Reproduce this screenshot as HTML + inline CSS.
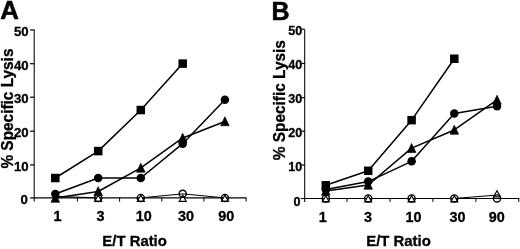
<!DOCTYPE html>
<html><head><meta charset="utf-8"><title>Figure</title>
<style>
html,body{margin:0;padding:0;background:#fff;}
body{width:520px;height:249px;overflow:hidden;}
svg{display:block;filter:blur(0.35px);}
svg text{font-family:"Liberation Sans",sans-serif;font-weight:bold;fill:#000;stroke:#000;stroke-width:0.3px;}
</style></head><body>
<svg width="520" height="249" viewBox="0 0 520 249">
<rect width="520" height="249" fill="#fff"/>
<line x1="34.2" y1="29.5" x2="34.2" y2="201.4" stroke="#000" stroke-width="1.05"/>
<line x1="30.200000000000003" y1="197.9" x2="246.5" y2="197.9" stroke="#000" stroke-width="1.15"/>
<line x1="30.000000000000004" y1="164.9" x2="34.2" y2="164.9" stroke="#000" stroke-width="1.2"/>
<line x1="30.000000000000004" y1="131.2" x2="34.2" y2="131.2" stroke="#000" stroke-width="1.2"/>
<line x1="30.000000000000004" y1="97.2" x2="34.2" y2="97.2" stroke="#000" stroke-width="1.2"/>
<line x1="30.000000000000004" y1="63.7" x2="34.2" y2="63.7" stroke="#000" stroke-width="1.2"/>
<line x1="30.000000000000004" y1="30.0" x2="34.2" y2="30.0" stroke="#000" stroke-width="1.2"/>
<line x1="77.4" y1="197.9" x2="77.4" y2="201.6" stroke="#000" stroke-width="1"/>
<line x1="119.6" y1="197.9" x2="119.6" y2="201.6" stroke="#000" stroke-width="1"/>
<line x1="161.8" y1="197.9" x2="161.8" y2="201.6" stroke="#000" stroke-width="1"/>
<line x1="203.9" y1="197.9" x2="203.9" y2="201.6" stroke="#000" stroke-width="1"/>
<line x1="246.1" y1="197.9" x2="246.1" y2="201.6" stroke="#000" stroke-width="1"/>
<polyline points="140.8,197.9 182.7,193.83 224.9,197.9" fill="none" stroke="#000" stroke-width="1.0" stroke-linejoin="round"/>
<polyline points="55.3,196.4 98.2,197.9" fill="none" stroke="#000" stroke-width="1.0" stroke-linejoin="round"/>
<polyline points="55.3,178.01 98.2,151.09 140.8,110.04 182.7,63.6" fill="none" stroke="#000" stroke-width="1.5" stroke-linejoin="round"/>
<polyline points="55.3,193.99 98.2,178.01 140.8,178.01 182.7,143.69 224.9,99.77" fill="none" stroke="#000" stroke-width="1.5" stroke-linejoin="round"/>
<polyline points="55.3,198.03 98.2,191.47 140.8,167.91 182.7,137.97 224.9,121.48" fill="none" stroke="#000" stroke-width="1.5" stroke-linejoin="round"/>
<polygon points="98.2,195.10000000000002 101.7,201.3 94.7,201.3" fill="#fff" stroke="#000" stroke-width="1.15"/>
<polygon points="140.8,195.10000000000002 144.3,201.3 137.3,201.3" fill="#fff" stroke="#000" stroke-width="1.15"/>
<polygon points="182.7,195.10000000000002 186.2,201.3 179.2,201.3" fill="#fff" stroke="#000" stroke-width="1.15"/>
<polygon points="224.9,195.10000000000002 228.4,201.3 221.4,201.3" fill="#fff" stroke="#000" stroke-width="1.15"/>
<circle cx="98.2" cy="197.9" r="3.55" fill="none" stroke="#000" stroke-width="1.4"/>
<circle cx="140.8" cy="197.9" r="3.55" fill="none" stroke="#000" stroke-width="1.4"/>
<circle cx="182.7" cy="193.83" r="3.55" fill="none" stroke="#000" stroke-width="1.4"/>
<circle cx="224.9" cy="197.9" r="3.55" fill="none" stroke="#000" stroke-width="1.4"/>
<rect x="51.05" y="173.76" width="8.5" height="8.5" fill="#000"/>
<rect x="93.95" y="146.84" width="8.5" height="8.5" fill="#000"/>
<rect x="136.55" y="105.79" width="8.5" height="8.5" fill="#000"/>
<rect x="178.45" y="59.35" width="8.5" height="8.5" fill="#000"/>
<polygon points="55.3,193.33 59.55,202.28 51.05,202.28" fill="#000" stroke="#000" stroke-width="0.7" stroke-linejoin="round"/>
<polygon points="98.2,186.77 102.45,195.72 93.95,195.72" fill="#000" stroke="#000" stroke-width="0.7" stroke-linejoin="round"/>
<polygon points="140.8,163.21 145.05,172.16 136.55,172.16" fill="#000" stroke="#000" stroke-width="0.7" stroke-linejoin="round"/>
<polygon points="182.7,133.27 186.95,142.22 178.45,142.22" fill="#000" stroke="#000" stroke-width="0.7" stroke-linejoin="round"/>
<polygon points="224.9,116.78 229.15,125.73 220.65,125.73" fill="#000" stroke="#000" stroke-width="0.7" stroke-linejoin="round"/>
<circle cx="55.3" cy="193.99" r="4.25" fill="#000"/>
<circle cx="98.2" cy="178.01" r="4.25" fill="#000"/>
<circle cx="140.8" cy="178.01" r="4.25" fill="#000"/>
<circle cx="182.7" cy="143.69" r="4.25" fill="#000"/>
<circle cx="224.9" cy="99.77" r="4.25" fill="#000"/>
<line x1="304.7" y1="29.5" x2="304.7" y2="201.95" stroke="#000" stroke-width="1.05"/>
<line x1="300.7" y1="198.45" x2="519.3" y2="198.45" stroke="#000" stroke-width="1.15"/>
<line x1="301.7" y1="165.0" x2="304.7" y2="165.0" stroke="#000" stroke-width="1.2"/>
<line x1="301.7" y1="131.2" x2="304.7" y2="131.2" stroke="#000" stroke-width="1.2"/>
<line x1="301.7" y1="97.7" x2="304.7" y2="97.7" stroke="#000" stroke-width="1.2"/>
<line x1="301.7" y1="63.5" x2="304.7" y2="63.5" stroke="#000" stroke-width="1.2"/>
<line x1="301.7" y1="29.2" x2="304.7" y2="29.2" stroke="#000" stroke-width="1.2"/>
<line x1="347.0" y1="198.45" x2="347.0" y2="201.95" stroke="#000" stroke-width="1"/>
<line x1="390.0" y1="198.45" x2="390.0" y2="201.95" stroke="#000" stroke-width="1"/>
<line x1="432.9" y1="198.45" x2="432.9" y2="201.95" stroke="#000" stroke-width="1"/>
<line x1="475.9" y1="198.45" x2="475.9" y2="201.95" stroke="#000" stroke-width="1"/>
<line x1="518.8" y1="198.45" x2="518.8" y2="201.95" stroke="#000" stroke-width="1"/>
<polyline points="454.3,198.46 497.0,195.09" fill="none" stroke="#000" stroke-width="1.0" stroke-linejoin="round"/>
<polyline points="325.8,185.3 368.2,170.79 411.6,120.16 454.3,58.74" fill="none" stroke="#000" stroke-width="1.5" stroke-linejoin="round"/>
<polyline points="325.8,189.52 368.2,181.59 411.6,161.34 454.3,113.41 497.0,106.33" fill="none" stroke="#000" stroke-width="1.5" stroke-linejoin="round"/>
<polyline points="325.8,191.04 368.2,184.96 411.6,148.18 454.3,129.95 497.0,99.91" fill="none" stroke="#000" stroke-width="1.5" stroke-linejoin="round"/>
<polygon points="325.8,195.66000000000003 329.3,201.86 322.3,201.86" fill="#fff" stroke="#000" stroke-width="1.15"/>
<polygon points="368.2,195.66000000000003 371.7,201.86 364.7,201.86" fill="#fff" stroke="#000" stroke-width="1.15"/>
<polygon points="411.6,195.66000000000003 415.1,201.86 408.1,201.86" fill="#fff" stroke="#000" stroke-width="1.15"/>
<polygon points="454.3,195.66000000000003 457.8,201.86 450.8,201.86" fill="#fff" stroke="#000" stroke-width="1.15"/>
<polygon points="497.0,190.69 500.5,196.89 493.5,196.89" fill="#fff" stroke="#000" stroke-width="1.15"/>
<circle cx="325.8" cy="198.46" r="3.55" fill="none" stroke="#000" stroke-width="1.4"/>
<circle cx="368.2" cy="198.46" r="3.55" fill="none" stroke="#000" stroke-width="1.4"/>
<circle cx="411.6" cy="198.46" r="3.55" fill="none" stroke="#000" stroke-width="1.4"/>
<circle cx="454.3" cy="198.46" r="3.55" fill="none" stroke="#000" stroke-width="1.4"/>
<circle cx="497.0" cy="198.46" r="3.55" fill="none" stroke="#000" stroke-width="1.4"/>
<rect x="321.55" y="181.05" width="8.5" height="8.5" fill="#000"/>
<rect x="363.95" y="166.54" width="8.5" height="8.5" fill="#000"/>
<rect x="407.35" y="115.91" width="8.5" height="8.5" fill="#000"/>
<rect x="450.05" y="54.49" width="8.5" height="8.5" fill="#000"/>
<polygon points="325.8,186.34 330.05,195.29 321.55,195.29" fill="#000" stroke="#000" stroke-width="0.7" stroke-linejoin="round"/>
<polygon points="368.2,180.26 372.45,189.21 363.95,189.21" fill="#000" stroke="#000" stroke-width="0.7" stroke-linejoin="round"/>
<polygon points="411.6,143.48 415.85,152.43 407.35,152.43" fill="#000" stroke="#000" stroke-width="0.7" stroke-linejoin="round"/>
<polygon points="454.3,125.25 458.55,134.20 450.05,134.20" fill="#000" stroke="#000" stroke-width="0.7" stroke-linejoin="round"/>
<polygon points="497.0,95.21 501.25,104.16 492.75,104.16" fill="#000" stroke="#000" stroke-width="0.7" stroke-linejoin="round"/>
<circle cx="325.8" cy="189.52" r="4.25" fill="#000"/>
<circle cx="368.2" cy="181.59" r="4.25" fill="#000"/>
<circle cx="411.6" cy="161.34" r="4.25" fill="#000"/>
<circle cx="454.3" cy="113.41" r="4.25" fill="#000"/>
<circle cx="497.0" cy="106.33" r="4.25" fill="#000"/>
<text x="0.2" y="19.4" font-size="25.8" text-anchor="start" style="stroke-width:0.55px">A</text>
<text x="271.5" y="19.8" font-size="25" text-anchor="start" style="stroke-width:0.55px">B</text>
<text x="28.7" y="170.70000000000002" font-size="13.2" text-anchor="end" >10</text>
<text x="28.7" y="137.0" font-size="13.2" text-anchor="end" >20</text>
<text x="28.7" y="103.0" font-size="13.2" text-anchor="end" >30</text>
<text x="28.7" y="69.5" font-size="13.2" text-anchor="end" >40</text>
<text x="28.7" y="35.8" font-size="13.2" text-anchor="end" >50</text>
<text x="27.9" y="203.9" font-size="13.2" text-anchor="end" >0</text>
<text x="302.3" y="170.6" font-size="12.6" text-anchor="end" >10</text>
<text x="302.3" y="136.79999999999998" font-size="12.6" text-anchor="end" >20</text>
<text x="302.3" y="103.3" font-size="12.6" text-anchor="end" >30</text>
<text x="302.3" y="69.1" font-size="12.6" text-anchor="end" >40</text>
<text x="302.3" y="34.8" font-size="12.6" text-anchor="end" >50</text>
<text x="300.5" y="205.6" font-size="12.6" text-anchor="end" >0</text>
<text x="57.6" y="220.7" font-size="14.4" text-anchor="middle" >1</text>
<text x="100.6" y="220.7" font-size="14.4" text-anchor="middle" >3</text>
<text x="143.8" y="220.7" font-size="14.4" text-anchor="middle" >10</text>
<text x="186" y="220.7" font-size="14.4" text-anchor="middle" >30</text>
<text x="226.2" y="220.7" font-size="14.4" text-anchor="middle" >90</text>
<text x="322.8" y="221.5" font-size="14.4" text-anchor="middle" >1</text>
<text x="368.0" y="221.5" font-size="14.4" text-anchor="middle" >3</text>
<text x="413.5" y="222.0" font-size="14.4" text-anchor="middle" >10</text>
<text x="457.4" y="222.0" font-size="14.4" text-anchor="middle" >30</text>
<text x="496.8" y="222.0" font-size="14.4" text-anchor="middle" >90</text>
<text x="134.6" y="246.0" font-size="14.9" text-anchor="middle" >E/T Ratio</text>
<text x="398.5" y="246.4" font-size="14.9" text-anchor="middle" >E/T Ratio</text>
<text transform="translate(12.7,168.6) rotate(-90) scale(1,1.04)" font-size="15.4">% Specific Lysis</text>
<text transform="translate(285.2,160.2) rotate(-90) scale(1,1.04)" font-size="15.4">% Specific Lysis</text>
</svg>
</body></html>
